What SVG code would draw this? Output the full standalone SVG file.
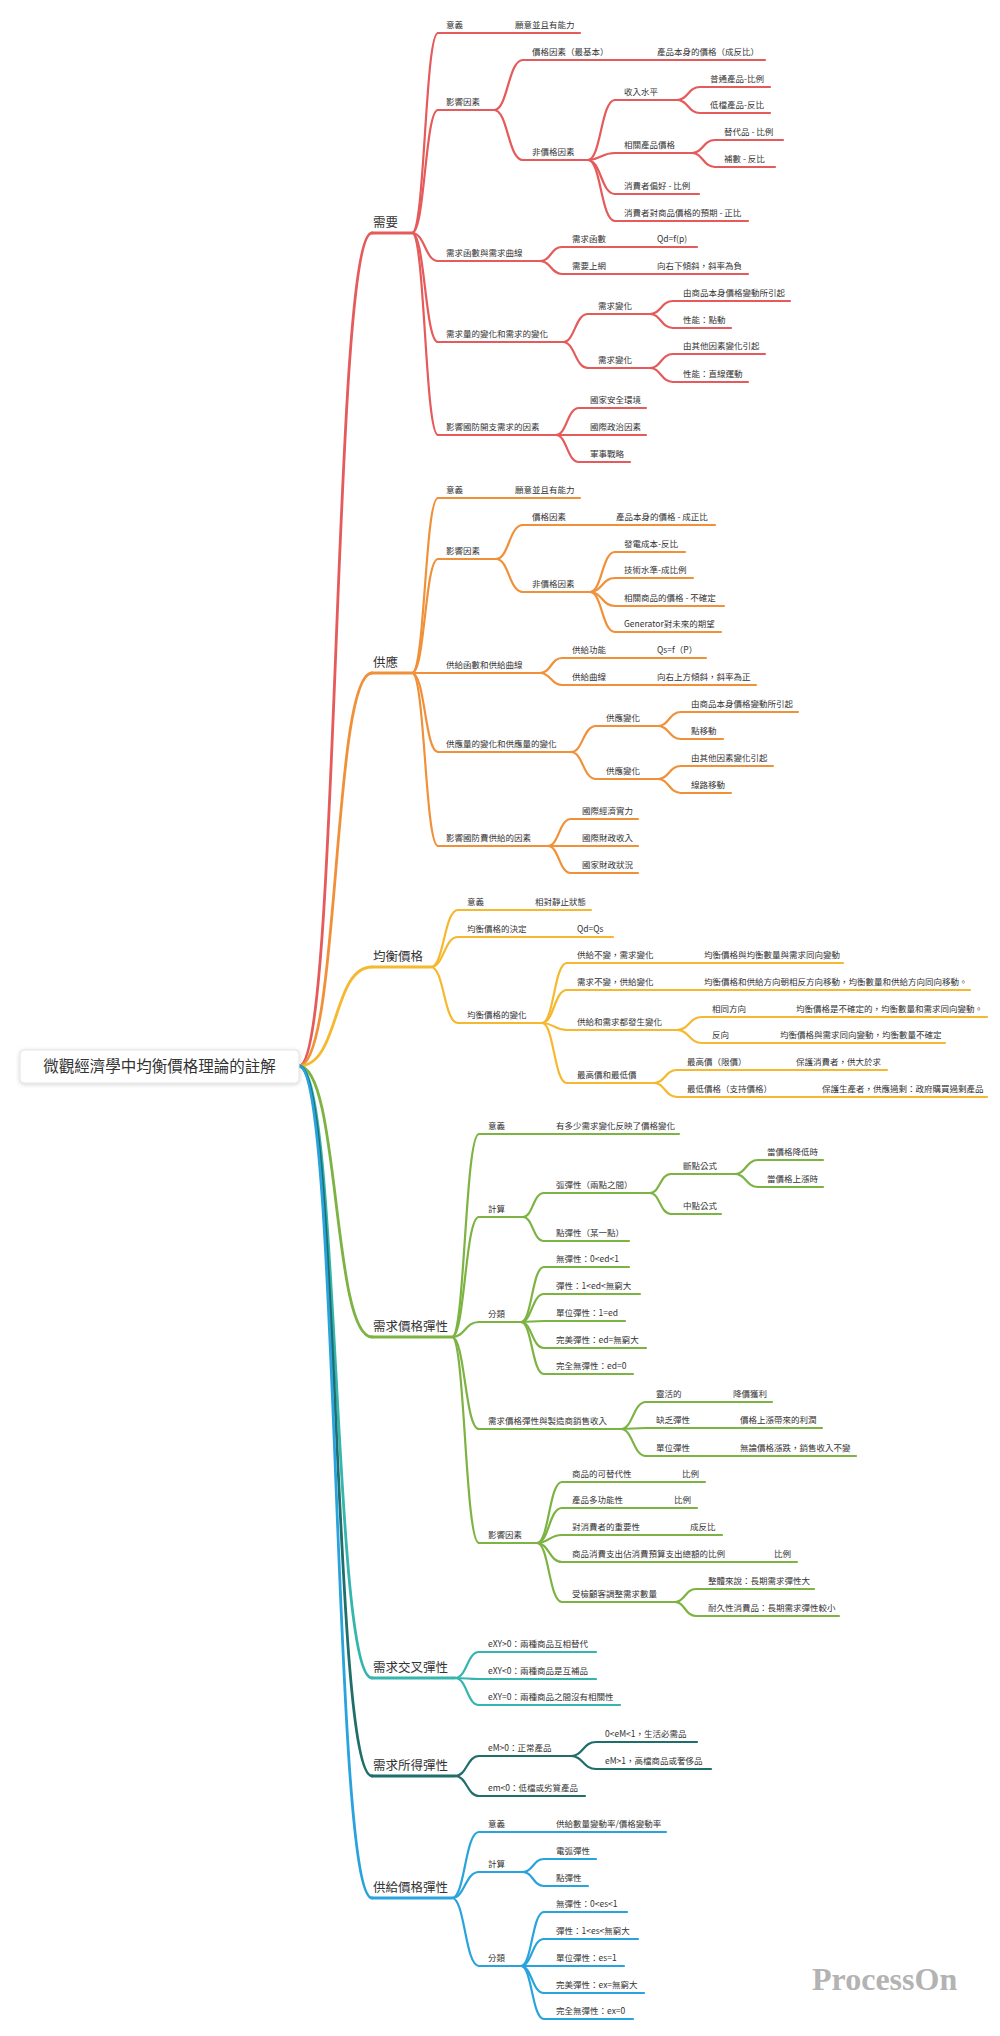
<svg xmlns="http://www.w3.org/2000/svg" width="1000" height="2036" viewBox="0 0 1000 2036">
<defs>
<filter id="sh" x="-10%" y="-30%" width="120%" height="160%"><feDropShadow dx="0" dy="1" stdDeviation="2" flood-color="#000" flood-opacity="0.18"/></filter>
</defs>
<style>
.t{font-family:"Noto Sans CJK TC","Noto Sans",sans-serif;font-size:8.5px;fill:#333}
.l1{font-family:"Noto Sans CJK TC","Noto Sans",sans-serif;font-size:12.5px;fill:#333}
.rt{font-family:"Noto Sans CJK TC","Noto Sans",sans-serif;font-size:15.5px;fill:#333}
path{fill:none;stroke-width:2.2;stroke-linecap:round}
.k{stroke-width:2.8}
.r{stroke:#e55a5a}.o{stroke:#f0913a}.y{stroke:#f5b82e}.g{stroke:#7cb342}.tl{stroke:#35b5ae}.dt{stroke:#1f6e6b}.b{stroke:#29a3dd}
</style>
<rect width="1000" height="2036" fill="#fff"/>
<g id="connectors">
<g class="root-links">
<path class="k r" d="M299 1066C340 1066 332 233 372 233"/>
<path class="k o" d="M299 1066C340 1066 332 673 372 673"/>
<path class="k y" d="M299 1066C340 1066 332 967 372 967"/>
<path class="k g" d="M299 1066C340 1066 332 1337 372 1337"/>
<path class="k tl" d="M299 1066C340 1066 332 1678 372 1678"/>
<path class="k dt" d="M299 1066C340 1066 332 1776 372 1776"/>
<path class="k b" d="M299 1066C340 1066 332 1898 372 1898"/>
</g>
<g class="r">
<path d="M412 233C425 233 425 33 438 33"/>
<path d="M412 233C425 233 425 110 438 110"/>
<path d="M412 233C425 233 425 261 438 261"/>
<path d="M412 233C425 233 425 342 438 342"/>
<path d="M412 233C425 233 425 435 438 435"/>
<path d="M494 110C508 110 508 60 523 60"/>
<path d="M494 110C508 110 508 160 523 160"/>
<path d="M588 160C601 160 601 100 615 100"/>
<path d="M588 160C601 160 601 153 615 153"/>
<path d="M588 160C601 160 601 194 615 194"/>
<path d="M588 160C601 160 601 221 615 221"/>
<path d="M677 100C688 100 688 87 700 87"/>
<path d="M677 100C688 100 688 113 700 113"/>
<path d="M692 153C703 153 703 140 715 140"/>
<path d="M692 153C703 153 703 167 715 167"/>
<path d="M540 261C551 261 551 247 562 247"/>
<path d="M540 261C551 261 551 274 562 274"/>
<path d="M563 342C575 342 575 314 588 314"/>
<path d="M563 342C575 342 575 368 588 368"/>
<path d="M650 314C661 314 661 301 673 301"/>
<path d="M650 314C661 314 661 328 673 328"/>
<path d="M650 368C661 368 661 354 673 354"/>
<path d="M650 368C661 368 661 382 673 382"/>
<path d="M556 435C567 435 567 408 579 408"/>
<path d="M556 435C567 435 567 435 579 435"/>
<path d="M556 435C567 435 567 462 579 462"/>
</g>
<g class="o">
<path d="M412 673C425 673 425 498 438 498"/>
<path d="M412 673C425 673 425 559 438 559"/>
<path d="M412 673C425 673 425 673 438 673"/>
<path d="M412 673C425 673 425 752 438 752"/>
<path d="M412 673C425 673 425 846 438 846"/>
<path d="M496 559C509 559 509 525 523 525"/>
<path d="M496 559C509 559 509 592 523 592"/>
<path d="M590 592C602 592 602 552 615 552"/>
<path d="M590 592C602 592 602 578 615 578"/>
<path d="M590 592C602 592 602 606 615 606"/>
<path d="M590 592C602 592 602 632 615 632"/>
<path d="M540 673C551 673 551 658 562 658"/>
<path d="M540 673C551 673 551 685 562 685"/>
<path d="M571 752C583 752 583 726 596 726"/>
<path d="M571 752C583 752 583 779 596 779"/>
<path d="M658 726C669 726 669 712 681 712"/>
<path d="M658 726C669 726 669 739 681 739"/>
<path d="M658 779C669 779 669 766 681 766"/>
<path d="M658 779C669 779 669 793 681 793"/>
<path d="M548 846C559 846 559 819 571 819"/>
<path d="M548 846C559 846 559 846 571 846"/>
<path d="M548 846C559 846 559 873 571 873"/>
</g>
<g class="y">
<path d="M431 967C444 967 444 910 458 910"/>
<path d="M431 967C444 967 444 937 458 937"/>
<path d="M431 967C444 967 444 1023 458 1023"/>
<path d="M542 1023C554 1023 554 963 567 963"/>
<path d="M542 1023C554 1023 554 990 567 990"/>
<path d="M542 1023C554 1023 554 1030 567 1030"/>
<path d="M542 1023C554 1023 554 1083 567 1083"/>
<path d="M677 1030C689 1030 689 1017 702 1017"/>
<path d="M677 1030C689 1030 689 1043 702 1043"/>
<path d="M654 1083C665 1083 665 1070 677 1070"/>
<path d="M654 1083C665 1083 665 1097 677 1097"/>
</g>
<g class="g">
<path d="M452 1337C465 1337 465 1134 479 1134"/>
<path d="M452 1337C465 1337 465 1217 479 1217"/>
<path d="M452 1337C465 1337 465 1322 479 1322"/>
<path d="M452 1337C465 1337 465 1429 479 1429"/>
<path d="M452 1337C465 1337 465 1543 479 1543"/>
<path d="M523 1217C533 1217 533 1193 544 1193"/>
<path d="M523 1217C533 1217 533 1241 544 1241"/>
<path d="M650 1193C660 1193 660 1174 671 1174"/>
<path d="M650 1193C660 1193 660 1214 671 1214"/>
<path d="M735 1174C746 1174 746 1160 758 1160"/>
<path d="M735 1174C746 1174 746 1187 758 1187"/>
<path d="M521 1322C532 1322 532 1267 544 1267"/>
<path d="M521 1322C532 1322 532 1294 544 1294"/>
<path d="M521 1322C532 1322 532 1321 544 1321"/>
<path d="M521 1322C532 1322 532 1348 544 1348"/>
<path d="M521 1322C532 1322 532 1374 544 1374"/>
<path d="M621 1429C633 1429 633 1402 646 1402"/>
<path d="M621 1429C633 1429 633 1428 646 1428"/>
<path d="M621 1429C633 1429 633 1456 646 1456"/>
<path d="M537 1543C549 1543 549 1482 562 1482"/>
<path d="M537 1543C549 1543 549 1508 562 1508"/>
<path d="M537 1543C549 1543 549 1535 562 1535"/>
<path d="M537 1543C549 1543 549 1562 562 1562"/>
<path d="M537 1543C549 1543 549 1602 562 1602"/>
<path d="M675 1602C685 1602 685 1589 696 1589"/>
<path d="M675 1602C685 1602 685 1616 696 1616"/>
</g>
<g class="tl">
<path d="M455 1678C467 1678 467 1652 479 1652"/>
<path d="M455 1678C467 1678 467 1679 479 1679"/>
<path d="M455 1678C467 1678 467 1705 479 1705"/>
</g>
<g class="dt">
<path d="M455 1776C467 1776 467 1756 479 1756"/>
<path d="M455 1776C467 1776 467 1796 479 1796"/>
<path d="M571 1756C583 1756 583 1742 596 1742"/>
<path d="M571 1756C583 1756 583 1769 596 1769"/>
</g>
<g class="b">
<path d="M452 1898C465 1898 465 1832 479 1832"/>
<path d="M452 1898C465 1898 465 1872 479 1872"/>
<path d="M452 1898C465 1898 465 1966 479 1966"/>
<path d="M523 1872C533 1872 533 1859 544 1859"/>
<path d="M523 1872C533 1872 533 1886 544 1886"/>
<path d="M521 1966C532 1966 532 1912 544 1912"/>
<path d="M521 1966C532 1966 532 1939 544 1939"/>
<path d="M521 1966C532 1966 532 1966 544 1966"/>
<path d="M521 1966C532 1966 532 1993 544 1993"/>
<path d="M521 1966C532 1966 532 2019 544 2019"/>
</g>
</g>

<g id="root">
<rect x="20" y="1050" width="279" height="33" rx="4" fill="#fff" stroke="#e4e4e4" filter="url(#sh)"/>
<text class="rt" x="159.5" y="1072" text-anchor="middle">微觀經濟學中均衡價格理論的註解</text>
</g>

<g id="n-demand"><path class="k r" d="M372 233H412"/><text class="l1" x="373" y="227">需要</text></g>
<g id="n-d1"><path class="r" d="M438 33H580"/><text class="t" x="446" y="28">意義</text><text class="t" x="515" y="28">願意並且有能力</text></g>
<g id="n-d2"><path class="r" d="M438 110H494"/><text class="t" x="446" y="105">影響因素</text></g>
<g id="n-d21"><path class="r" d="M523 60H765"/><text class="t" x="532" y="55">價格因素（最基本）</text><text class="t" x="657" y="55">產品本身的價格（成反比）</text></g>
<g id="n-d22"><path class="r" d="M523 160H588"/><text class="t" x="532" y="155">非價格因素</text></g>
<g id="n-d221"><path class="r" d="M615 100H677"/><text class="t" x="624" y="95">收入水平</text></g>
<g id="n-d2211"><path class="r" d="M700 87H770"/><text class="t" x="710" y="82">普通產品-比例</text></g>
<g id="n-d2212"><path class="r" d="M700 113H770"/><text class="t" x="710" y="108">低檔產品-反比</text></g>
<g id="n-d222"><path class="r" d="M615 153H692"/><text class="t" x="624" y="148">相關產品價格</text></g>
<g id="n-d2221"><path class="r" d="M715 140H783"/><text class="t" x="724" y="135">替代品 - 比例</text></g>
<g id="n-d2222"><path class="r" d="M715 167H775"/><text class="t" x="724" y="162">補數 - 反比</text></g>
<g id="n-d223"><path class="r" d="M615 194H699"/><text class="t" x="624" y="189">消費者偏好 - 比例</text></g>
<g id="n-d224"><path class="r" d="M615 221H748"/><text class="t" x="624" y="216">消費者對商品價格的預期 - 正比</text></g>
<g id="n-d3"><path class="r" d="M438 261H540"/><text class="t" x="446" y="256">需求函數與需求曲線</text></g>
<g id="n-d31"><path class="r" d="M562 247H697"/><text class="t" x="572" y="242">需求函數</text><text class="t" x="657" y="242">Qd=f(p)</text></g>
<g id="n-d32"><path class="r" d="M562 274H748"/><text class="t" x="572" y="269">需要上網</text><text class="t" x="657" y="269">向右下傾斜，斜率為負</text></g>
<g id="n-d4"><path class="r" d="M438 342H563"/><text class="t" x="446" y="337">需求量的變化和需求的變化</text></g>
<g id="n-d41"><path class="r" d="M588 314H650"/><text class="t" x="598" y="309">需求變化</text></g>
<g id="n-d411"><path class="r" d="M673 301H790"/><text class="t" x="683" y="296">由商品本身價格變動所引起</text></g>
<g id="n-d412"><path class="r" d="M673 328H731"/><text class="t" x="683" y="323">性能：點動</text></g>
<g id="n-d42"><path class="r" d="M588 368H650"/><text class="t" x="598" y="363">需求變化</text></g>
<g id="n-d421"><path class="r" d="M673 354H765"/><text class="t" x="683" y="349">由其他因素變化引起</text></g>
<g id="n-d422"><path class="r" d="M673 382H748"/><text class="t" x="683" y="377">性能：直線運動</text></g>
<g id="n-d5"><path class="r" d="M438 435H556"/><text class="t" x="446" y="430">影響國防開支需求的因素</text></g>
<g id="n-d51"><path class="r" d="M579 408H646"/><text class="t" x="590" y="403">國家安全環境</text></g>
<g id="n-d52"><path class="r" d="M579 435H646"/><text class="t" x="590" y="430">國際政治因素</text></g>
<g id="n-d53"><path class="r" d="M579 462H630"/><text class="t" x="590" y="457">軍事戰略</text></g>

<g id="n-supply"><path class="k o" d="M372 673H412"/><text class="l1" x="373" y="667">供應</text></g>
<g id="n-s1"><path class="o" d="M438 498H580"/><text class="t" x="446" y="493">意義</text><text class="t" x="515" y="493">願意並且有能力</text></g>
<g id="n-s2"><path class="o" d="M438 559H496"/><text class="t" x="446" y="554">影響因素</text></g>
<g id="n-s21"><path class="o" d="M523 525H715"/><text class="t" x="532" y="520">價格因素</text><text class="t" x="616" y="520">產品本身的價格 - 成正比</text></g>
<g id="n-s22"><path class="o" d="M523 592H590"/><text class="t" x="532" y="587">非價格因素</text></g>
<g id="n-s221"><path class="o" d="M615 552H685"/><text class="t" x="624" y="547">發電成本-反比</text></g>
<g id="n-s222"><path class="o" d="M615 578H693"/><text class="t" x="624" y="573">技術水準-成比例</text></g>
<g id="n-s223"><path class="o" d="M615 606H724"/><text class="t" x="624" y="601">相關商品的價格 - 不確定</text></g>
<g id="n-s224"><path class="o" d="M615 632H721"/><text class="t" x="624" y="627">Generator對未來的期望</text></g>
<g id="n-s3"><path class="o" d="M438 673H540"/><text class="t" x="446" y="668">供給函數和供給曲線</text></g>
<g id="n-s31"><path class="o" d="M562 658H706"/><text class="t" x="572" y="653">供給功能</text><text class="t" x="657" y="653">Qs=f（P）</text></g>
<g id="n-s32"><path class="o" d="M562 685H756"/><text class="t" x="572" y="680">供給曲線</text><text class="t" x="657" y="680">向右上方傾斜，斜率為正</text></g>
<g id="n-s4"><path class="o" d="M438 752H571"/><text class="t" x="446" y="747">供應量的變化和供應量的變化</text></g>
<g id="n-s41"><path class="o" d="M596 726H658"/><text class="t" x="606" y="721">供應變化</text></g>
<g id="n-s411"><path class="o" d="M681 712H798"/><text class="t" x="691" y="707">由商品本身價格變動所引起</text></g>
<g id="n-s412"><path class="o" d="M681 739H723"/><text class="t" x="691" y="734">點移動</text></g>
<g id="n-s42"><path class="o" d="M596 779H658"/><text class="t" x="606" y="774">供應變化</text></g>
<g id="n-s421"><path class="o" d="M681 766H773"/><text class="t" x="691" y="761">由其他因素變化引起</text></g>
<g id="n-s422"><path class="o" d="M681 793H731"/><text class="t" x="691" y="788">線路移動</text></g>
<g id="n-s5"><path class="o" d="M438 846H548"/><text class="t" x="446" y="841">影響國防費供給的因素</text></g>
<g id="n-s51"><path class="o" d="M571 819H638"/><text class="t" x="582" y="814">國際經濟實力</text></g>
<g id="n-s52"><path class="o" d="M571 846H638"/><text class="t" x="582" y="841">國際財政收入</text></g>
<g id="n-s53"><path class="o" d="M571 873H638"/><text class="t" x="582" y="868">國家財政狀況</text></g>

<g id="n-eq"><path class="k y" d="M372 967H431"/><text class="l1" x="373" y="961">均衡價格</text></g>
<g id="n-e1"><path class="y" d="M458 910H591"/><text class="t" x="467" y="905">意義</text><text class="t" x="535" y="905">相對靜止狀態</text></g>
<g id="n-e2"><path class="y" d="M458 937H613"/><text class="t" x="467" y="932">均衡價格的決定</text><text class="t" x="577" y="932">Qd=Qs</text></g>
<g id="n-e3"><path class="y" d="M458 1023H542"/><text class="t" x="467" y="1018">均衡價格的變化</text></g>
<g id="n-e31"><path class="y" d="M567 963H843"/><text class="t" x="577" y="958">供給不變，需求變化</text><text class="t" x="704" y="958">均衡價格與均衡數量與需求同向變動</text></g>
<g id="n-e32"><path class="y" d="M567 990H970"/><text class="t" x="577" y="985">需求不變，供給變化</text><text class="t" x="704" y="985">均衡價格和供給方向朝相反方向移動，均衡數量和供給方向同向移動。</text></g>
<g id="n-e33"><path class="y" d="M567 1030H677"/><text class="t" x="577" y="1025">供給和需求都發生變化</text></g>
<g id="n-e331"><path class="y" d="M702 1017H987"/><text class="t" x="712" y="1012">相同方向</text><text class="t" x="796" y="1012">均衡價格是不確定的，均衡數量和需求同向變動。</text></g>
<g id="n-e332"><path class="y" d="M702 1043H945"/><text class="t" x="712" y="1038">反向</text><text class="t" x="780" y="1038">均衡價格與需求同向變動，均衡數量不確定</text></g>
<g id="n-e34"><path class="y" d="M567 1083H654"/><text class="t" x="577" y="1078">最高價和最低價</text></g>
<g id="n-e341"><path class="y" d="M677 1070H887"/><text class="t" x="687" y="1065">最高價（限價）</text><text class="t" x="796" y="1065">保護消費者，供大於求</text></g>
<g id="n-e342"><path class="y" d="M677 1097H987"/><text class="t" x="687" y="1092">最低價格（支持價格）</text><text class="t" x="822" y="1092">保護生產者，供應過剩：政府購買過剩產品</text></g>

<g id="n-ped"><path class="k g" d="M372 1337H452"/><text class="l1" x="373" y="1331">需求價格彈性</text></g>
<g id="n-p1"><path class="g" d="M479 1134H679"/><text class="t" x="488" y="1129">意義</text><text class="t" x="556" y="1129">有多少需求變化反映了價格變化</text></g>
<g id="n-p2"><path class="g" d="M479 1217H523"/><text class="t" x="488" y="1212">計算</text></g>
<g id="n-p21"><path class="g" d="M544 1193H650"/><text class="t" x="556" y="1188">弧彈性（兩點之間）</text></g>
<g id="n-p211"><path class="g" d="M671 1174H735"/><text class="t" x="683" y="1169">斷點公式</text></g>
<g id="n-p2111"><path class="g" d="M758 1160H823"/><text class="t" x="767" y="1155">當價格降低時</text></g>
<g id="n-p2112"><path class="g" d="M758 1187H823"/><text class="t" x="767" y="1182">當價格上漲時</text></g>
<g id="n-p212"><path class="g" d="M671 1214H721"/><text class="t" x="683" y="1209">中點公式</text></g>
<g id="n-p22"><path class="g" d="M544 1241H629"/><text class="t" x="556" y="1236">點彈性（某一點）</text></g>
<g id="n-p3"><path class="g" d="M479 1322H521"/><text class="t" x="488" y="1317">分類</text></g>
<g id="n-p31"><path class="g" d="M544 1267H629"/><text class="t" x="556" y="1262">無彈性：0&lt;ed&lt;1</text></g>
<g id="n-p32"><path class="g" d="M544 1294H640"/><text class="t" x="556" y="1289">彈性：1&lt;ed&lt;無窮大</text></g>
<g id="n-p33"><path class="g" d="M544 1321H625"/><text class="t" x="556" y="1316">單位彈性：1=ed</text></g>
<g id="n-p34"><path class="g" d="M544 1348H646"/><text class="t" x="556" y="1343">完美彈性：ed=無窮大</text></g>
<g id="n-p35"><path class="g" d="M544 1374H633"/><text class="t" x="556" y="1369">完全無彈性：ed=0</text></g>
<g id="n-p4"><path class="g" d="M479 1429H621"/><text class="t" x="488" y="1424">需求價格彈性與製造商銷售收入</text></g>
<g id="n-p41"><path class="g" d="M646 1402H772"/><text class="t" x="656" y="1397">靈活的</text><text class="t" x="733" y="1397">降價獲利</text></g>
<g id="n-p42"><path class="g" d="M646 1428H822"/><text class="t" x="656" y="1423">缺乏彈性</text><text class="t" x="740" y="1423">價格上漲帶來的利潤</text></g>
<g id="n-p43"><path class="g" d="M646 1456H856"/><text class="t" x="656" y="1451">單位彈性</text><text class="t" x="740" y="1451">無論價格漲跌，銷售收入不變</text></g>
<g id="n-p5"><path class="g" d="M479 1543H537"/><text class="t" x="488" y="1538">影響因素</text></g>
<g id="n-p51"><path class="g" d="M562 1482H705"/><text class="t" x="572" y="1477">商品的可替代性</text><text class="t" x="682" y="1477">比例</text></g>
<g id="n-p52"><path class="g" d="M562 1508H697"/><text class="t" x="572" y="1503">產品多功能性</text><text class="t" x="674" y="1503">比例</text></g>
<g id="n-p53"><path class="g" d="M562 1535H722"/><text class="t" x="572" y="1530">對消費者的重要性</text><text class="t" x="690" y="1530">成反比</text></g>
<g id="n-p54"><path class="g" d="M562 1562H797"/><text class="t" x="572" y="1557">商品消費支出佔消費預算支出總額的比例</text><text class="t" x="774" y="1557">比例</text></g>
<g id="n-p55"><path class="g" d="M562 1602H675"/><text class="t" x="572" y="1597">受檢顧客調整需求數量</text></g>
<g id="n-p551"><path class="g" d="M696 1589H814"/><text class="t" x="708" y="1584">整體來說：長期需求彈性大</text></g>
<g id="n-p552"><path class="g" d="M696 1616H839"/><text class="t" x="708" y="1611">耐久性消費品：長期需求彈性較小</text></g>

<g id="n-cross"><path class="k tl" d="M372 1678H455"/><text class="l1" x="373" y="1672">需求交叉彈性</text></g>
<g id="n-c1"><path class="tl" d="M479 1652H596"/><text class="t" x="488" y="1647">eXY&gt;0：兩種商品互相替代</text></g>
<g id="n-c2"><path class="tl" d="M479 1679H596"/><text class="t" x="488" y="1674">eXY&lt;0：兩種商品是互補品</text></g>
<g id="n-c3"><path class="tl" d="M479 1705H620"/><text class="t" x="488" y="1700">eXY=0：兩種商品之間沒有相關性</text></g>

<g id="n-inc"><path class="k dt" d="M372 1776H455"/><text class="l1" x="373" y="1770">需求所得彈性</text></g>
<g id="n-i1"><path class="dt" d="M479 1756H571"/><text class="t" x="488" y="1751">eM&gt;0：正常產品</text></g>
<g id="n-i11"><path class="dt" d="M596 1742H697"/><text class="t" x="605" y="1737">0&lt;eM&lt;1，生活必需品</text></g>
<g id="n-i12"><path class="dt" d="M596 1769H711"/><text class="t" x="605" y="1764">eM&gt;1，高檔商品或奢侈品</text></g>
<g id="n-i2"><path class="dt" d="M479 1796H585"/><text class="t" x="488" y="1791">em&lt;0：低檔或劣質產品</text></g>

<g id="n-pes"><path class="k b" d="M372 1898H452"/><text class="l1" x="373" y="1892">供給價格彈性</text></g>
<g id="n-b1"><path class="b" d="M479 1832H666"/><text class="t" x="488" y="1827">意義</text><text class="t" x="556" y="1827">供給數量變動率/價格變動率</text></g>
<g id="n-b2"><path class="b" d="M479 1872H523"/><text class="t" x="488" y="1867">計算</text></g>
<g id="n-b21"><path class="b" d="M544 1859H596"/><text class="t" x="556" y="1854">電弧彈性</text></g>
<g id="n-b22"><path class="b" d="M544 1886H588"/><text class="t" x="556" y="1881">點彈性</text></g>
<g id="n-b3"><path class="b" d="M479 1966H521"/><text class="t" x="488" y="1961">分類</text></g>
<g id="n-b31"><path class="b" d="M544 1912H627"/><text class="t" x="556" y="1907">無彈性：0&lt;es&lt;1</text></g>
<g id="n-b32"><path class="b" d="M544 1939H638"/><text class="t" x="556" y="1934">彈性：1&lt;es&lt;無窮大</text></g>
<g id="n-b33"><path class="b" d="M544 1966H624"/><text class="t" x="556" y="1961">單位彈性：es=1</text></g>
<g id="n-b34"><path class="b" d="M544 1993H644"/><text class="t" x="556" y="1988">完美彈性：ex=無窮大</text></g>
<g id="n-b35"><path class="b" d="M544 2019H633"/><text class="t" x="556" y="2014">完全無彈性：ex=0</text></g>

<text x="812" y="1990" font-family="Liberation Serif,serif" font-weight="bold" font-size="32" fill="#b3b3b3">ProcessOn</text>
</svg>
